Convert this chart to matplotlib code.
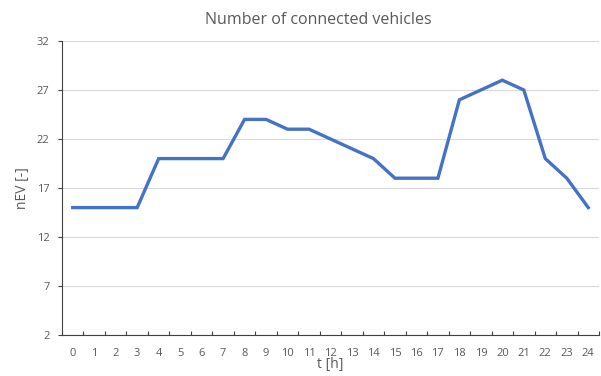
import numpy as np
import matplotlib
matplotlib.use("Agg")
import matplotlib.pyplot as plt

# hours and number of connected EVs
hours = list(range(25))
n_ev = [15, 15, 15, 15, 20, 20, 20, 20, 24, 24, 23, 23, 22,
        21, 20, 18, 18, 18, 26, 27, 28, 27, 20, 18, 15]
y_ticks = [2, 7, 12, 17, 22, 27, 32]

plt.rcParams['font.family'] = ['Open Sans', 'DejaVu Sans']
text_grey = '#595959'

fig = plt.figure(figsize=(6.01, 3.76), dpi=100)
ax = fig.add_axes([62 / 601, 1 - 335 / 376, 537 / 601, 294 / 376])

ax.plot(hours, n_ev, color='#4472C4', linewidth=2.4, solid_joinstyle='miter')

ax.set_xlim(-0.5, 24.5)
ax.set_ylim(2, 32)
ax.set_yticks(y_ticks)
ax.set_xticks(hours)
ax.set_xticks(np.arange(-0.5, 25, 1), minor=True)
ax.tick_params(axis='x', which='major', length=0, labelsize=8,
               labelcolor=text_grey, pad=9)
ax.tick_params(axis='x', which='minor', direction='in', length=3,
               width=0.8, color='#404040')
ax.tick_params(axis='y', length=3, width=0.8, color='#404040',
               labelsize=8, labelcolor=text_grey, pad=6)

ax.grid(axis='y', color='#D9D9D9', linewidth=0.8)
ax.set_axisbelow(True)
for side in ['top', 'right']:
    ax.spines[side].set_visible(False)
for side in ['left', 'bottom']:
    ax.spines[side].set_color('#404040')
    ax.spines[side].set_linewidth(0.8)

ax.set_xlabel('t [h]', fontsize=10, color=text_grey, labelpad=-1)
ax.set_ylabel('nEV [-]', fontsize=10, color=text_grey, labelpad=5)
fig.text(0.53, 1 - 20 / 376, 'Number of connected vehicles', ha='center',
         va='center', fontsize=11.5, color=text_grey)

fig.savefig('out.png', dpi=100)
